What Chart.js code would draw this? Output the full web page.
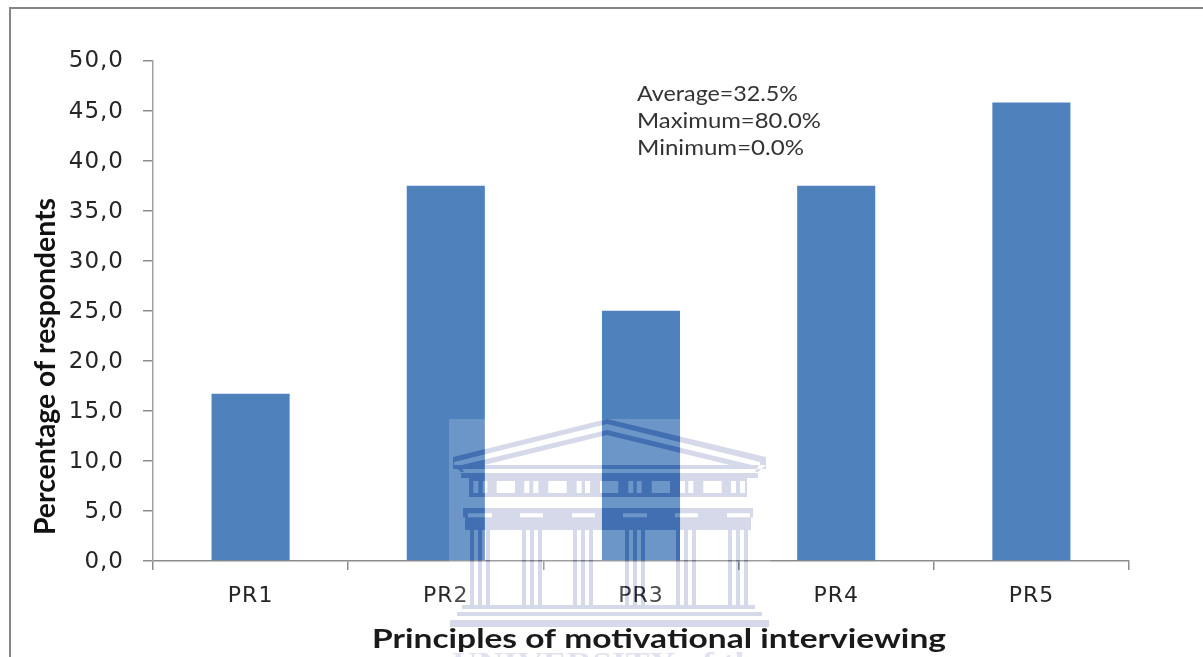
<!DOCTYPE html>
<html>
<head>
<meta charset="utf-8">
<title>Principles of motivational interviewing</title>
<script src="https://cdn.jsdelivr.net/npm/chart.js@4/dist/chart.umd.min.js"></script>
<style>
  html, body { margin: 0; padding: 0; background: #fff; overflow: hidden; }
  canvas { display: block; }
</style>
</head>
<body>
<canvas id="chart" width="1203" height="657"></canvas>
<script>
const categories = ["PR1", "PR2", "PR3", "PR4", "PR5"];
const respondents = [16.7, 37.5, 25.0, 37.5, 45.8];
const summaryLines = ["Average=32.5%", "Maximum=80.0%", "Minimum=0.0%"];
const xTitle = "Principles of motivational interviewing";
const yTitle = "Percentage of respondents";
const crestName = "UNIVERSITY of the";

// Writes a line of text stretched horizontally to an exact width.
function stretchedText(ctx, text, x, y, width, font, color) {
  ctx.save();
  ctx.letterSpacing = "0px";
  ctx.font = font;
  ctx.fillStyle = color;
  ctx.textAlign = "left";
  ctx.textBaseline = "alphabetic";
  ctx.translate(x, y);
  ctx.scale(width / ctx.measureText(text).width, 1);
  ctx.fillText(text, 0, 0);
  ctx.restore();
}

// Outer frame: only the top and left edges fall inside the canvas.
const framePlugin = {
  id: "frame",
  beforeDraw(chart) {
    const c = chart.ctx;
    c.save();
    c.fillStyle = "#ffffff";
    c.fillRect(0, 0, chart.width, chart.height);
    c.fillStyle = "#868686";
    c.fillRect(9, 7, chart.width - 9, 2);
    c.fillRect(9, 7, 2, chart.height - 7);
    c.restore();
    // Axis labels are set slightly wide.
    c.letterSpacing = "1px";
  }
};

// Builds the pale building crest on its own layer.
function buildCrest() {
  const layer = document.createElement("canvas");
  layer.width = 1203;
  layer.height = 657;
  const c = layer.getContext("2d");

  // Light veil across the crest's bounding box.
  c.fillStyle = "rgba(255,255,255,0.17)";
  c.fillRect(449, 419, 321, 238);

  const shapes = new Path2D();
  const rect = (x, y, w, h) => shapes.rect(x, y, w, h);
  const poly = pts => {
    shapes.moveTo(pts[0][0], pts[0][1]);
    pts.slice(1).forEach(p => shapes.lineTo(p[0], p[1]));
    shapes.closePath();
  };
  // Fills a horizontal run while leaving the given gaps open.
  const runWithGaps = (from, to, y, h, gaps) => {
    let x = from;
    gaps.forEach(([a, b]) => { rect(x, y, a - x, h); x = b; });
    rect(x, y, to - x, h);
  };

  // Roof: outer band wrapping round the eaves, inner band below it
  poly([[607, 419], [766, 457], [766, 465], [760, 465], [760, 462], [607, 424], [454, 462], [454, 465], [453, 465], [453, 457]]);
  poly([[607, 430], [752, 465], [730, 465], [607, 435], [484, 465], [462, 465]]);
  rect(453, 465, 313, 4);
  poly([[453, 465], [460, 465], [464, 472], [461, 472]]);
  poly([[766, 465], [759, 465], [755, 472], [758, 472]]);
  rect(461, 473, 297, 5);

  // Frieze: windows and triglyph slots left open
  rect(469, 478, 278, 3);
  runWithGaps(469, 747, 481, 12, [
    [473.3, 478.3], [482.7, 487.3], [496.7, 515], [524.3, 529.3], [533.3, 538.3],
    [548.3, 566.7], [576.7, 581.7], [585, 590], [600, 618.3], [628.3, 633.3],
    [636.7, 641.7], [651.7, 670], [680, 685], [688.3, 693.3], [703.3, 721.7],
    [731, 736], [740, 745]
  ]);
  rect(469, 493, 278, 4);

  // Cornice with the pale column capitals let into it
  rect(463, 508, 290, 5.3);
  runWithGaps(463, 753, 513.3, 4, [
    [468, 492], [520, 543], [572, 595], [623, 647], [675, 698], [727, 750]
  ]);
  rect(465, 517.3, 286, 12.7);

  // Columns, three strips each
  [480, 532, 583, 635, 686, 738].forEach(cx => {
    rect(cx - 10, 530, 4, 75);
    rect(cx - 2, 530, 4, 75);
    rect(cx + 6, 530, 4, 75);
  });

  // Steps
  rect(462, 605, 293, 4);
  rect(457, 612, 305, 4);
  rect(450, 620, 319, 7);

  // The shapes are cut out of the veil, then tinted.
  c.globalCompositeOperation = "destination-out";
  c.fillStyle = "#000";
  c.fill(shapes, "nonzero");
  c.globalCompositeOperation = "source-over";
  c.fillStyle = "rgba(0,20,120,0.16)";
  c.fill(shapes, "nonzero");

  // Lettering under the crest, cut off by the canvas edge
  stretchedText(c, crestName, 452, 671, 318, "bold 27px 'Liberation Serif'", "rgba(0,20,120,0.12)");
  return layer;
}

const crestPlugin = {
  id: "crest",
  afterDatasetsDraw(chart) {
    if (!chart.$crest) chart.$crest = buildCrest();
    chart.ctx.drawImage(chart.$crest, 0, 0);
  }
};

// Axis titles and the summary note sit at fixed places off the plot centre.
const notesPlugin = {
  id: "notes",
  afterDatasetsDraw(chart) {
    const c = chart.ctx;
    stretchedText(c, summaryLines[0], 637, 101, 161, "21px Lato", "#333333");
    stretchedText(c, summaryLines[1], 637, 128, 184, "21px Lato", "#333333");
    stretchedText(c, summaryLines[2], 637, 155, 167, "21px Lato", "#333333");
    stretchedText(c, xTitle, 372, 648, 574, "bold 26px Lato", "#1a1a1a");
    c.save();
    c.translate(55, 535);
    c.rotate(-Math.PI / 2);
    stretchedText(c, yTitle, 0, 0, 337, "bold 28px Lato", "#111111");
    c.restore();
  }
};

new Chart(document.getElementById("chart"), {
  type: "bar",
  data: {
    labels: categories,
    datasets: [{
      data: respondents,
      backgroundColor: "#4f81bd",
      borderWidth: 0,
      barPercentage: 0.8,
      categoryPercentage: 0.5
    }]
  },
  plugins: [framePlugin, crestPlugin, notesPlugin],
  options: {
    responsive: false,
    animation: false,
    layout: { padding: { left: 0, right: 74, top: 60.5, bottom: 0 } },
    plugins: { legend: { display: false }, title: { display: false }, tooltip: { enabled: false } },
    scales: {
      x: {
        afterFit(scale) { scale.height = 96; },
        border: { color: "#8c8c8c", width: 1.5 },
        grid: { offset: true, drawOnChartArea: false, drawTicks: true, tickLength: 9, color: "#8c8c8c", lineWidth: 1.5 },
        ticks: { padding: 13, color: "#262626", font: { family: "DejaVu Sans", size: 22 }, maxRotation: 0 }
      },
      y: {
        min: 0,
        max: 50,
        afterFit(scale) { scale.width = 153; },
        border: { color: "#a0a0a0", width: 1.5 },
        grid: { drawOnChartArea: false, drawTicks: true, tickLength: 10, color: "#8c8c8c", lineWidth: 1.5 },
        ticks: {
          stepSize: 5,
          padding: 19,
          labelOffset: 1,
          color: "#262626",
          font: { family: "DejaVu Sans", size: 23 },
          callback: v => v.toFixed(1).replace(".", ",")
        }
      }
    }
  }
});
</script>
</body>
</html>
